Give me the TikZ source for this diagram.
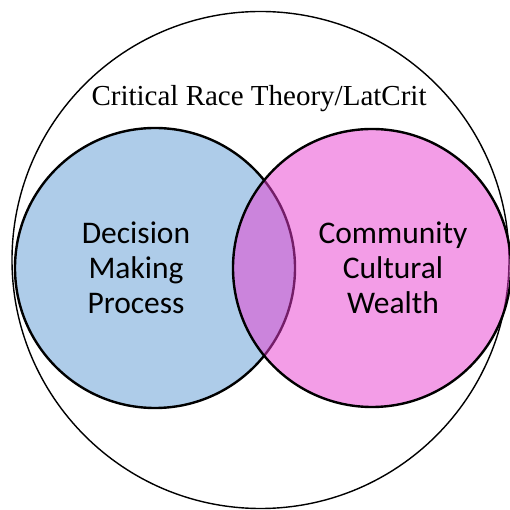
\documentclass[tikz,border=0pt]{standalone}
\usepackage{fontspec}
\setmainfont{Liberation Serif}
\newfontfamily\calfont{Carlito}
\definecolor{blueset}{RGB}{174,204,233}
\definecolor{pinkset}{RGB}{233,61,209}
\tikzset{
  outer/.style={draw=black, line width=1.4pt},
  setcircle/.style={draw=black, line width=2.4pt},
  settext/.style={font=\calfont\fontsize{31.5}{35}\selectfont, align=center, text=black},
}
\begin{document}
\begin{tikzpicture}[x=1pt,y=1pt]
\useasboundingbox (0,0) rectangle (509,510);
\fill[white] (0,0) rectangle (509,510);
\draw[outer] (260.5,250) circle (248.5);
\node[font=\fontsize{29}{34}\selectfont, anchor=base] (title) at (259,404) {Critical Race Theory/LatCrit};
\draw[setcircle, fill=blueset] (155,242) circle (140);
\draw[setcircle, fill=pinkset, fill opacity=0.5] (372,242) circle (139);
\node[settext] (dmp) at (136,242) {Decision\\Making\\Process};
\node[settext] (ccw) at (393,242) {Community\\Cultural\\Wealth};
\end{tikzpicture}
\end{document}
